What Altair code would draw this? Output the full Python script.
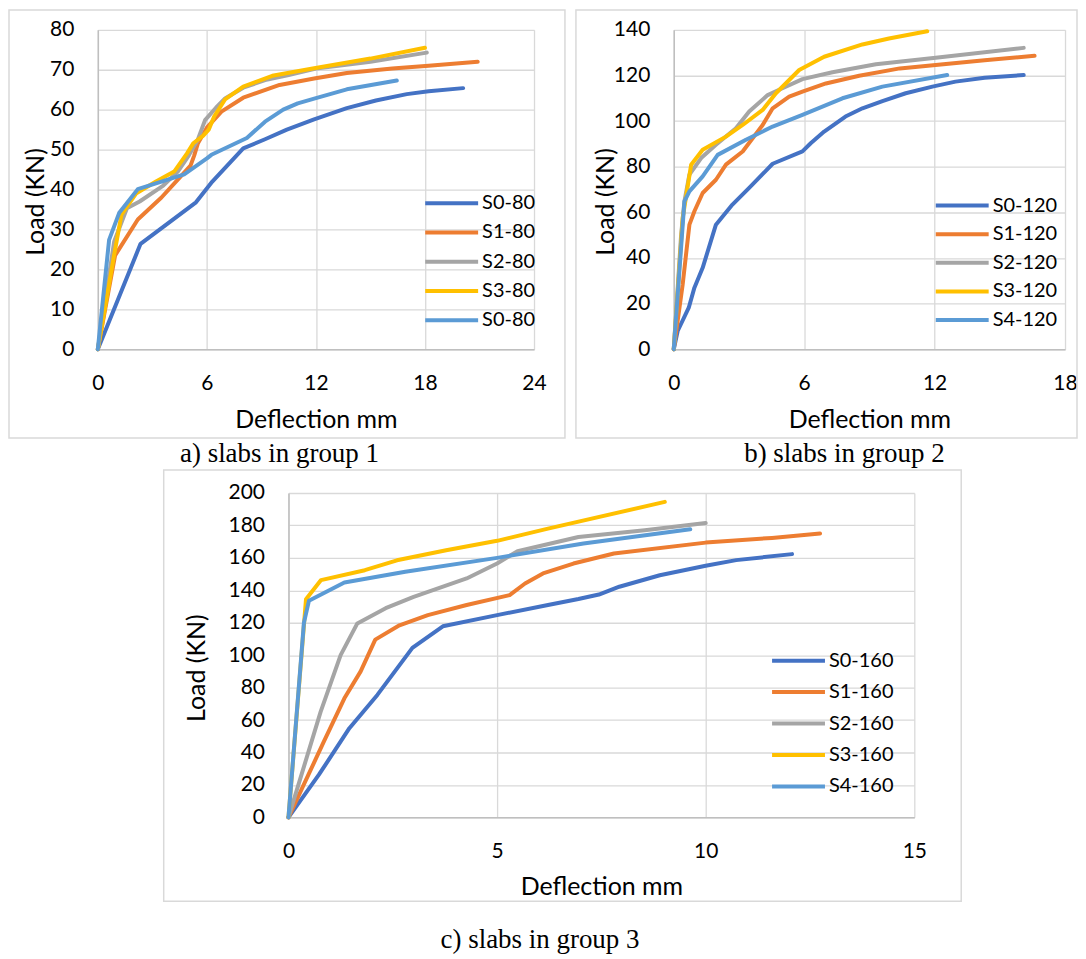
import altair as alt
import pandas as pd

SANS = "Lato"
SERIF = "Liberation Serif"
COLORS = ["#4472C4", "#ED7D31", "#A5A5A5", "#FFC000", "#5B9BD5"]
CAPTIONS = ["a) slabs in group 1", "b) slabs in group 2", "c) slabs in group 3"]
LEGEND_LINE = "M-3.3125,0L3.3125,0"

# ---------------- group 1 ----------------
a_names = ["S0-80", "S1-80", "S2-80", "S3-80", "S0-80 "]
a_x = [
    [0, 2.35, 5.4, 6.3, 8.0, 9.2, 10.4, 11.9, 13.7, 15.3, 17.0, 18.2, 20.1],
    [0, 0.95, 2.2, 3.5, 4.5, 5.1, 5.3, 5.5, 6.0, 6.8, 8.0, 10.0, 11.9, 13.7, 16.2, 18.2, 20.9],
    [0, 0.9, 1.6, 2.3, 3.6, 4.4, 5.0, 5.5, 5.9, 6.5, 7.0, 8.0, 9.2, 10.5, 12.0, 15.0, 18.1],
    [0, 0.9, 1.3, 2.1, 3.2, 4.2, 4.9, 5.25, 5.8, 6.1, 6.4, 7.0, 8.0, 9.6, 11.9, 15.0, 18.0],
    [0, 0.62, 1.17, 2.2, 3.5, 4.75, 6.0, 6.25, 8.2, 9.2, 10.2, 11.0, 12.0, 13.7, 16.45],
]
a_y = [
    [0, 26.4, 36.8, 42.0, 50.3, 52.6, 55.0, 57.6, 60.4, 62.3, 63.9, 64.6, 65.4],
    [0, 23.5, 32.5, 38.0, 43.0, 46.0, 48.5, 51.5, 55.5, 59.5, 63.0, 66.2, 67.8, 69.2, 70.3, 71.0, 72.0],
    [0, 27.0, 35.3, 37.0, 41.0, 44.5, 48.5, 52.5, 57.4, 60.5, 62.8, 65.5, 67.4, 68.7, 70.3, 72.0, 74.3],
    [0, 23.7, 33.7, 39.0, 42.0, 44.5, 49.0, 51.6, 53.5, 55.0, 58.3, 62.6, 65.8, 68.5, 70.4, 72.8, 75.5],
    [0, 27.4, 34.1, 40.1, 42.0, 43.8, 47.8, 48.7, 52.9, 57.0, 60.0, 61.6, 62.9, 65.1, 67.3],
]

# ---------------- group 2 ----------------
b_names = ["S0-120", "S1-120", "S2-120", "S3-120", "S4-120"]
b_x = [
    [0, 0.18, 0.69, 0.95, 1.33, 1.94, 2.7, 3.47, 4.55, 5.92, 6.3, 6.92, 7.9, 8.68, 9.6, 10.67, 11.9, 12.96, 14.3, 16.1],
    [0, 0.41, 0.72, 0.95, 1.33, 1.94, 2.4, 3.17, 4.09, 4.55, 5.31, 5.92, 7.0, 8.53, 10.4, 12.05, 14.3, 16.6],
    [0, 0.34, 0.49, 0.72, 1.26, 1.94, 2.86, 3.47, 4.32, 5.0, 5.92, 7.3, 9.3, 12.05, 16.1],
    [0, 0.41, 0.8, 1.33, 2.4, 3.17, 4.09, 4.7, 5.77, 6.92, 8.68, 9.9, 11.66],
    [0, 0.49, 0.72, 1.33, 2.02, 3.32, 4.55, 5.92, 7.76, 9.6, 12.58],
]
b_y = [
    [0, 8, 18.2, 27, 35.7, 54.6, 63.4, 70.7, 81.3, 86.7, 90.3, 95.4, 102, 105.6, 108.8, 112.2, 115.1, 117.3, 119, 120.2],
    [0, 28.4, 54.6, 60.5, 68.5, 74.3, 80.9, 86.7, 98.3, 105.6, 110.7, 112.9, 116.5, 119.9, 123.1, 124.6, 126.7, 128.6],
    [0, 50.3, 64.8, 76.5, 83.8, 89.6, 96.9, 104.2, 111.4, 114.4, 118.4, 121.4, 124.9, 127.8, 132.1],
    [0, 57.5, 80.9, 87.4, 93.2, 98.3, 104.9, 112.2, 122.4, 128.2, 133.6, 136.2, 139.4],
    [0, 64.8, 69.2, 75.8, 85.2, 91.8, 97.6, 102.7, 110, 115.1, 120.2],
]

# ---------------- group 3 ----------------
c_names = ["S0-160", "S1-160", "S2-160", "S3-160", "S4-160"]
c_x = [
    [0, 0.73, 1.46, 2.13, 2.97, 3.7, 5.0, 6.22, 6.95, 7.44, 7.93, 8.9, 10.0, 10.73, 12.07],
    [0, 0.85, 1.34, 1.73, 2.08, 2.66, 3.34, 4.27, 5.3, 5.67, 6.1, 6.83, 7.8, 10.0, 11.59, 12.74],
    [0, 0.77, 1.25, 1.65, 2.33, 3.0, 4.27, 5.0, 5.49, 6.95, 8.54, 10.0],
    [0, 0.42, 0.78, 1.83, 2.6, 3.78, 5.0, 6.22, 9.02],
    [0, 0.37, 0.49, 1.34, 2.8, 5.0, 7.07, 9.63],
]
c_y = [
    [0, 26.3, 55, 75.5, 104.5, 117.8, 124.7, 130.9, 134.6, 137.4, 142.2, 149.3, 155.1, 158.6, 162.3],
    [0, 46.8, 73.4, 90.0, 109.6, 118.4, 124.7, 130.9, 137, 144.2, 150.4, 156.5, 162.7, 169.4, 172.3, 175],
    [0, 65, 100, 119.6, 129.0, 136.0, 147.3, 156.5, 164.1, 172.9, 177, 181.5],
    [0, 134.5, 146.3, 152.4, 158.5, 164.7, 170.5, 178, 194.5],
    [0, 120, 133.5, 144.8, 151.4, 160, 168.8, 177.6],
]


def make_df(names, xs, ys):
    rows = []
    for n, xl, yl in zip(names, xs, ys):
        for i, (xv, yv) in enumerate(zip(xl, yl)):
            rows.append({"s": n, "x": xv, "y": yv, "i": i})
    return pd.DataFrame(rows)


def panel(names, xs, ys, xmax, xstep, ymax, ystep, w, h, leg_x, leg_y, row_pad,
          ytitle_x, ytitle_y, xtitle_y, box, caption, cap_x, cap_y):
    df = make_df(names, xs, ys)
    xticks = list(range(0, xmax + 1, xstep))
    yticks = list(range(0, ymax + 1, ystep))
    lines = alt.Chart(df).mark_line(strokeWidth=4, strokeJoin="round", strokeCap="round").encode(
        x=alt.X("x:Q", scale=alt.Scale(domain=[0, xmax], nice=False),
                axis=alt.Axis(values=xticks, title="Deflection mm", titleX=w / 2,
                              titleY=xtitle_y, titleBaseline="alphabetic", titleAlign="center")),
        y=alt.Y("y:Q", scale=alt.Scale(domain=[0, ymax], nice=False),
                axis=alt.Axis(values=yticks, title="Load (KN)", titleAngle=270,
                              titleX=ytitle_x, titleY=ytitle_y, titleAlign="center",
                              titleBaseline="middle")),
        color=alt.Color("s:N", scale=alt.Scale(domain=names, range=COLORS),
                        legend=alt.Legend(title=None, orient="none", legendX=leg_x, legendY=leg_y,
                                          symbolType=LEGEND_LINE, symbolSize=256,
                                          symbolStrokeWidth=4, symbolFillColor="transparent",
                                          labelFontSize=20, labelFont=SANS,
                                          labelColor="#000000", labelOffset=20.5,
                                          rowPadding=row_pad, padding=0)),
        order="i:O",
    )
    one = pd.DataFrame({"t": [caption]})
    frame = alt.Chart(one).mark_rect(fillOpacity=0, stroke="#d9d9d9", strokeWidth=1.5).encode(
        x=alt.value(box[0]), x2=alt.value(box[1]), y=alt.value(box[2]), y2=alt.value(box[3]))
    cap = alt.Chart(one).mark_text(font=SERIF, fontSize=27, color="#000000", align="center",
                                   baseline="alphabetic").encode(
        x=alt.value(cap_x), y=alt.value(cap_y), text="t:N")
    return alt.layer(frame, lines, cap).properties(width=w, height=h)


pa = panel(a_names, a_x, a_y, 24, 6, 80, 10, 437, 320, 344.5, 163.7, 9.3,
           -62, 172, 78, (-89, 468, -20, 409), CAPTIONS[0], 182, 433)
pb = panel(b_names, b_x, b_y, 18, 6, 140, 20, 392, 320, 279, 166, 8.7,
           -68, 172, 78, (-98, 404, -20, 409), CAPTIONS[1], 171, 433)
pc = panel(c_names, c_x, c_y, 15, 5, 200, 20, 627, 325, 501, 158, 11.5,
           -92, 175, 77, (-125, 674, -23, 409), CAPTIONS[2], 252, 456)

spacer = alt.Chart(pd.DataFrame({"k": [0]})).mark_rect(opacity=0).encode(
    x=alt.value(-89), x2=alt.value(0), y=alt.value(0), y2=alt.value(1)).properties(width=1, height=1)

top = alt.hconcat(pa, pb, spacing=140, bounds="flush").resolve_scale(
    x="independent", y="independent", color="independent").resolve_legend(color="independent")
bottom = alt.hconcat(spacer, pc, spacing=190, bounds="flush").resolve_scale(
    x="independent", y="independent", color="independent").resolve_legend(color="independent")

chart = alt.vconcat(top, bottom, spacing=2, bounds="full").resolve_scale(
    x="independent", y="independent", color="independent").resolve_legend(
    color="independent").properties(padding=0).configure_view(stroke=None).configure_axis(
    labelFont=SANS, labelFontSize=21, labelColor="#000000", labelPadding=23,
    labelFlush=False, labelOverlap=False,
    ticks=False, tickSize=0, domainColor="#bfbfbf", domainWidth=1.5,
    gridColor="#d9d9d9", gridWidth=1.3,
    titleFont=SANS, titleFontSize=25, titleFontWeight="normal", titleColor="#000000",
).configure_axisY(labelPadding=24)

chart.save("out.html", embed_options={"renderer": "svg", "actions": False})
